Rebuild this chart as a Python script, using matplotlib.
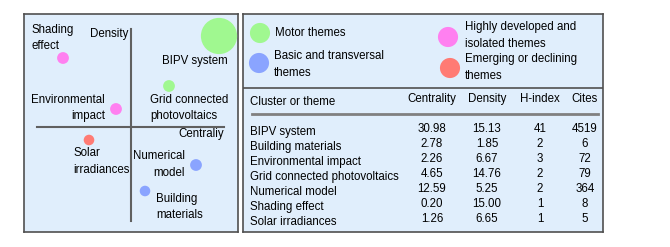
import matplotlib
matplotlib.use("Agg")
import matplotlib.pyplot as plt

plt.rcParams['font.family'] = ['Liberation Sans', 'DejaVu Sans']

# ---- data ----
themes = ["BIPV system", "Building materials", "Environmental impact",
          "Grid connected photovoltaics", "Numerical model", "Shading effect",
          "Solar irradiances"]
centrality = [30.98, 2.78, 2.26, 4.65, 12.59, 0.20, 1.26]
density = [15.13, 1.85, 6.67, 14.76, 5.25, 15.00, 6.65]
h_index = [41, 2, 3, 2, 2, 1, 1]
cites = [4519, 6, 72, 79, 364, 8, 5]
# positions on the strategic diagram (origin at axis crossing)
diag_x = [88, 14, -15, 38, 65, -68, -42]
diag_y = [91, -64, 18, 41, -38, 69, -13]
bubble_size = [680, 58, 72, 72, 72, 72, 58]
quadrant = ["motor", "basic", "isolated", "motor", "basic", "isolated", "emerging"]
quad_names = {"motor": "Motor themes",
              "basic": "Basic and transversal\nthemes",
              "isolated": "Highly developed and\nisolated themes",
              "emerging": "Emerging or declining\nthemes"}
quad_colors = {"motor": "#a0f890", "basic": "#8aa4ff",
               "isolated": "#ff80f0", "emerging": "#ff7b74"}
headers = ["Centrality", "Density", "H-index", "Cites"]

BG = "#e0eefc"
EDGE = "#505050"
FS = 8.3
LS = 1.45

fig = plt.figure(figsize=(6.7, 2.47), dpi=100)
W, H = 670, 247


def px_axes(x0, y0, x1, y1):
    return fig.add_axes([x0 / W, 1 - y1 / H, (x1 - x0) / W, (y1 - y0) / H])


# ---- left: strategic diagram ----
ax = px_axes(24, 14, 238, 232)
ax.set_facecolor(BG)
ax.set_xlim(-107, 107)
ax.set_ylim(-105, 113)
ax.set_xticks([]); ax.set_yticks([])
for s in ax.spines.values():
    s.set_color(EDGE); s.set_linewidth(1.2)
ax.plot([-94, 93], [0, 0], color="#606060", lw=1.5, zorder=1)
ax.plot([0, 0], [-94, 98], color="#606060", lw=1.5, zorder=1)
ax.scatter(diag_x, diag_y, s=bubble_size,
           c=[quad_colors[q] for q in quadrant], edgecolors='none', zorder=3)

ax.text(-100, 103, "Shading\neffect", ha='left', va='top', fontsize=FS, linespacing=LS)
ax.text(-3, 93, "Density", ha='right', va='center', fontsize=FS)
ax.text(31, 66, "BIPV system", ha='left', va='center', fontsize=FS)
ax.text(19, 19, "Grid connected\nphotovoltaics", ha='left', va='center',
        fontsize=FS, linespacing=LS)
ax.text(-26, 19, "Environmental\nimpact", ha='right', va='center',
        multialignment='right', fontsize=FS, linespacing=LS)
ax.text(93, -7, "Centraliy", ha='right', va='center', fontsize=FS)
ax.text(-58, -34.5, "Solar\nirradiances", ha='left', va='center',
        fontsize=FS, linespacing=LS)
ax.text(54, -37.5, "Numerical\nmodel", ha='right', va='center',
        multialignment='right', fontsize=FS, linespacing=LS)
ax.text(25, -80, "Building\nmaterials", ha='left', va='center',
        fontsize=FS, linespacing=LS)

# ---- right: legend + table ----
rx = px_axes(243, 14, 603, 232)
rx.set_facecolor(BG)
rx.set_xlim(0, 360)
rx.set_ylim(218, 0)
rx.set_xticks([]); rx.set_yticks([])
for s in rx.spines.values():
    s.set_color(EDGE); s.set_linewidth(1.2)
rx.plot([0, 360], [74, 74], color=EDGE, lw=1.2)

leg_pos = {"motor": (17, 19, 32, 19), "basic": (16, 49, 31, 50.5),
           "isolated": (205, 23, 222, 21.5), "emerging": (207, 54, 222, 53.5)}
for q, (cx, cy, tx, ty) in leg_pos.items():
    rx.scatter([cx], [cy], s=210, c=quad_colors[q], edgecolors='none')
    rx.text(tx, ty, quad_names[q], ha='left', va='center', fontsize=FS,
            linespacing=LS)

col_x = [189, 244, 297, 342]
rx.text(7, 88, "Cluster or theme", ha='left', va='center', fontsize=FS)
for x, h in zip(col_x, headers):
    rx.text(x, 85, h, ha='center', va='center', fontsize=FS)
rx.plot([9, 355], [100, 100], color="#808080", lw=2)

for i, name in enumerate(themes):
    yn = 117.7 + 15 * i
    yv = 114.5 + 15 * i
    rx.text(7, yn, name, ha='left', va='center', fontsize=FS)
    vals = [f"{centrality[i]:.2f}", f"{density[i]:.2f}", f"{h_index[i]}", f"{cites[i]}"]
    for x, v in zip(col_x, vals):
        rx.text(x, yv, v, ha='center', va='center', fontsize=FS)

fig.savefig("out.png", dpi=100, facecolor="white")
